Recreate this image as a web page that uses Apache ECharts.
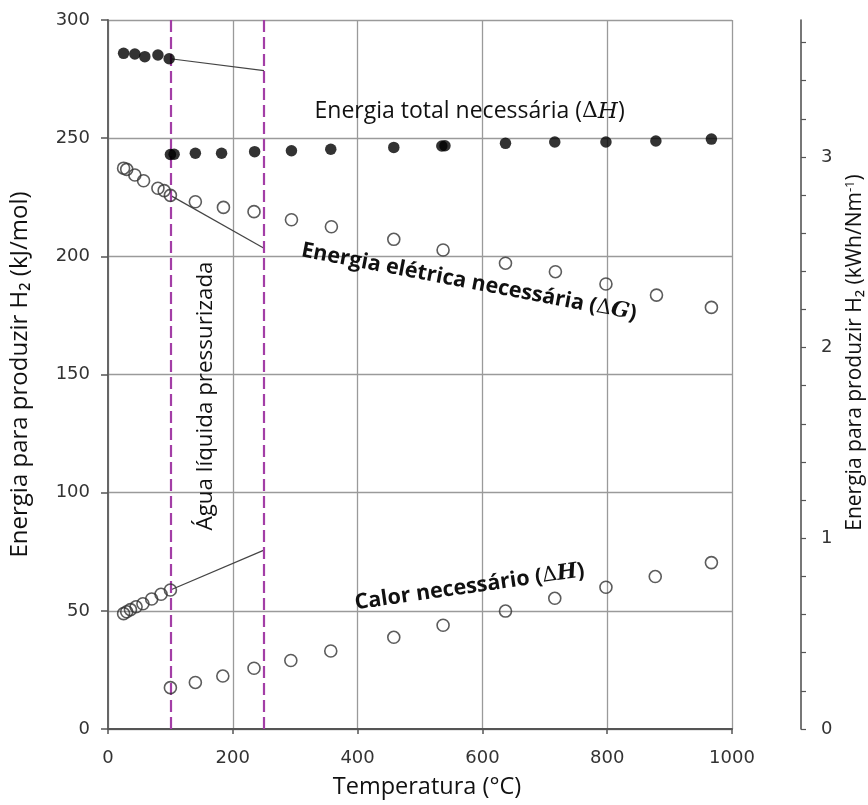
<!DOCTYPE html>
<html>
<head>
<meta charset="utf-8">
<script src="https://cdn.jsdelivr.net/npm/echarts@6/dist/echarts.min.js"></script>
<style>
  html, body { margin: 0; padding: 0; background: #ffffff; }
  #chart { width: 868px; height: 805px; }
</style>
</head>
<body>
<div id="chart"></div>
<script>
// Energy needed to produce H2 by water electrolysis versus temperature (kJ/mol)

// Total energy (ΔH) — liquid water
const totalLiqT = [25, 43, 59, 80, 98];
const totalLiqE = [285.9, 285.6, 284.5, 285.2, 283.6];
// Total energy (ΔH) — steam
const totalGasT = [100, 106, 140, 182, 235, 294, 357, 458, 535, 540, 637, 716, 798, 878, 967];
const totalGasE = [243.1, 243.2, 243.6, 243.6, 244.3, 244.7, 245.3, 246.1, 246.7, 246.8, 247.8, 248.4, 248.4, 248.8, 249.6];

// Electrical energy (ΔG) — liquid water
const elecLiqT = [25, 30, 43, 57, 80, 90, 100];
const elecLiqE = [237.3, 236.8, 234.4, 232.0, 228.8, 227.8, 225.8];
// Electrical energy (ΔG) — steam
const elecGasT = [140, 185, 234, 294, 358, 458, 537, 637, 717, 798, 879, 967];
const elecGasE = [223.1, 220.7, 218.9, 215.5, 212.5, 207.2, 202.7, 197.1, 193.5, 188.3, 183.6, 178.4];

// Heat (TΔS) — liquid water
const heatLiqT = [25, 30, 36, 45, 56, 70, 85, 100];
const heatLiqE = [48.8, 49.6, 50.5, 51.7, 53.0, 55.0, 57.0, 58.8];
// Heat (TΔS) — steam
const heatGasT = [100, 140, 184, 234, 293, 357, 458, 537, 637, 716, 798, 877, 967];
const heatGasE = [17.5, 19.7, 22.4, 25.7, 29.0, 33.0, 38.8, 43.9, 49.9, 55.3, 60.0, 64.5, 70.4];

// Pressurised liquid water extrapolations (100 → 250 °C)
const pressT = [100, 250];
const pressTotalE = [283.6, 278.6];
const pressElecE = [225.8, 203.4];
const pressHeatE = [58.8, 75.7];

// Boundaries of the pressurised liquid water region (°C)
const regionT = [100, 250];

// Axis ticks
const xTicks = [0, 200, 400, 600, 800, 1000];
const yTicks = [0, 50, 100, 150, 200, 250, 300];
const kwhLabels = [0, 1, 2, 3];
const kwhMinorTicks = [0, 0.2, 0.4, 0.6, 0.8, 1, 1.2, 1.4, 1.6, 1.8, 2, 2.2, 2.4, 2.6, 2.8, 3, 3.2, 3.4, 3.6];

// 1 kWh/Nm³ of H2 expressed in kJ/mol (3600 kJ / 44.615 mol)
const KJ_PER_KWH_NM3 = 3600 / 44.615;
const Y_MAX = 300;

const pairs = (xs, ys) => xs.map((x, i) => [x, ys[i]]);

const tickFont = { fontFamily: 'DejaVu Sans', fontSize: 18, color: '#333333' };
const titleFont = 'Open Sans';

const filledDot = {
  type: 'scatter', symbol: 'circle', symbolSize: 11.5,
  itemStyle: { color: '#000000' }, z: 5
};
const openDot = {
  type: 'scatter', symbol: 'circle', symbolSize: 12,
  itemStyle: { color: 'rgba(0,0,0,0)', borderColor: '#333333', borderWidth: 1.6 }, z: 5
};
const extrapLine = {
  type: 'line', symbol: 'none', silent: true,
  lineStyle: { color: '#444444', width: 1.2 }, z: 4
};

const chart = echarts.init(document.getElementById('chart'), null, { renderer: 'canvas' });

chart.setOption({
  animation: false,
  backgroundColor: '#ffffff',
  grid: { left: 108, right: 136, top: 20, bottom: 76, containLabel: false },
  xAxis: {
    type: 'value', min: xTicks[0], max: xTicks[xTicks.length - 1], interval: 200,
    name: 'Temperatura (°C)', nameLocation: 'middle', nameGap: 46,
    nameTextStyle: { fontFamily: titleFont, fontSize: 23.5, color: '#111111', padding: [0, 0, 0, 14] },
    axisLine: { show: true, lineStyle: { color: '#555555', width: 2 } },
    axisTick: { show: true, length: 5, lineStyle: { color: '#555555', width: 1.5 } },
    axisLabel: Object.assign({ margin: 20, formatter: v => String(v) }, tickFont),
    splitLine: { show: true, lineStyle: { color: '#9a9a9a', width: 1.3 } }
  },
  yAxis: [
    {
      type: 'value', min: yTicks[0], max: yTicks[yTicks.length - 1], interval: 50,
      name: 'Energia para produzir H₂ (kJ/mol)', nameLocation: 'middle', nameGap: 76, nameRotate: 90,
      nameTextStyle: { fontFamily: titleFont, fontSize: 24, color: '#111111' },
      axisLine: { show: true, lineStyle: { color: '#666666', width: 2 } },
      axisTick: { show: true, length: 7, lineStyle: { color: '#555555', width: 1.5 } },
      axisLabel: Object.assign({ margin: 18 }, tickFont),
      splitLine: { show: true, lineStyle: { color: '#9a9a9a', width: 1.3 } }
    },
    {
      type: 'value', position: 'right', offset: 69,
      min: 0, max: Y_MAX / KJ_PER_KWH_NM3, interval: 0.2,
      axisLine: { show: true, lineStyle: { color: '#555555', width: 1.6 } },
      axisTick: { show: true, length: 5, customValues: kwhMinorTicks, lineStyle: { color: '#555555', width: 1.2 } },
      axisLabel: Object.assign({
        margin: 20, customValues: kwhLabels,
        formatter: v => (Math.abs(v - Math.round(v)) < 1e-6 ? String(Math.round(v)) : '')
      }, tickFont),
      splitLine: { show: false }
    }
  ],
  series: [
    // region boundaries
    {
      type: 'line', data: [], silent: true,
      markLine: {
        silent: true, symbol: 'none', label: { show: false },
        lineStyle: { color: '#a33ea6', width: 2.2, type: [12, 5] },
        data: regionT.map(t => ({ xAxis: t }))
      }, z: 3
    },
    Object.assign({ data: pairs(pressT, pressTotalE) }, extrapLine),
    Object.assign({ data: pairs(pressT, pressElecE) }, extrapLine),
    Object.assign({ data: pairs(pressT, pressHeatE) }, extrapLine),
    Object.assign({ name: 'ΔH líquido', data: pairs(totalLiqT, totalLiqE) }, filledDot),
    Object.assign({ name: 'ΔH vapor', data: pairs(totalGasT, totalGasE) }, filledDot),
    Object.assign({ name: 'ΔG líquido', data: pairs(elecLiqT, elecLiqE) }, openDot),
    Object.assign({ name: 'ΔG vapor', data: pairs(elecGasT, elecGasE) }, openDot),
    Object.assign({ name: 'TΔS líquido', data: pairs(heatLiqT, heatLiqE) }, openDot),
    Object.assign({ name: 'TΔS vapor', data: pairs(heatGasT, heatGasE) }, openDot)
  ]
});

// Annotations anchored in data coordinates
const px = (t, e) => chart.convertToPixel({ gridIndex: 0 }, [t, e]);

const mathRich = (size, weight) => ({
  a: { fontFamily: titleFont, fontSize: size, fontWeight: weight, fill: '#111111' },
  d: { fontFamily: 'DejaVu Serif', fontSize: size - 1, fontWeight: 'normal', fill: '#111111' },
  m: { fontFamily: 'DejaVu Serif', fontSize: size, fontStyle: 'italic', fontWeight: weight, fill: '#111111' }
});

function note(text, anchor, rotDeg, size, weight, vAlign) {
  const p = px(anchor[0], anchor[1]);
  return {
    type: 'text', x: p[0], y: p[1], rotation: rotDeg * Math.PI / 180, z: 20,
    style: {
      text: text, rich: mathRich(size, weight),
      align: 'left', verticalAlign: vAlign || 'bottom'
    }
  };
}

const yRight = chart.convertToPixel({ yAxisIndex: 1 }, (Y_MAX / KJ_PER_KWH_NM3) * 0.5);

chart.setOption({
  graphic: [
    note('{a|Energia total necessária (}{d|Δ}{m|H}{a|)}', [331, 256.4], 0, 23, 'normal'),
    note('{a|Energia elétrica necessária (}{d|Δ}{m|G}{a|)}', [307, 198], -10.8, 21.5, 'bold'),
    note('{a|Calor necessário (}{d|Δ}{m|H}{a|)}', [398, 48.6], 8.1, 21.5, 'bold'),
    note('{a|Água líquida pressurizada}', [156, 84], 90, 22.4, 'normal', 'middle'),
    {
      type: 'text', x: 855, y: yRight - 22, rotation: Math.PI / 2, z: 20,
      style: {
        text: '{a|Energia para produzir H₂ (kWh/Nm}{s|-1}{a|)}',
        rich: {
          a: { fontFamily: titleFont, fontSize: 21, fill: '#111111' },
          s: { fontFamily: titleFont, fontSize: 13, fill: '#111111', verticalAlign: 'top', padding: [0, 0, 10, 0] }
        },
        align: 'center', verticalAlign: 'middle'
      }
    }
  ]
});
</script>
</body>
</html>
